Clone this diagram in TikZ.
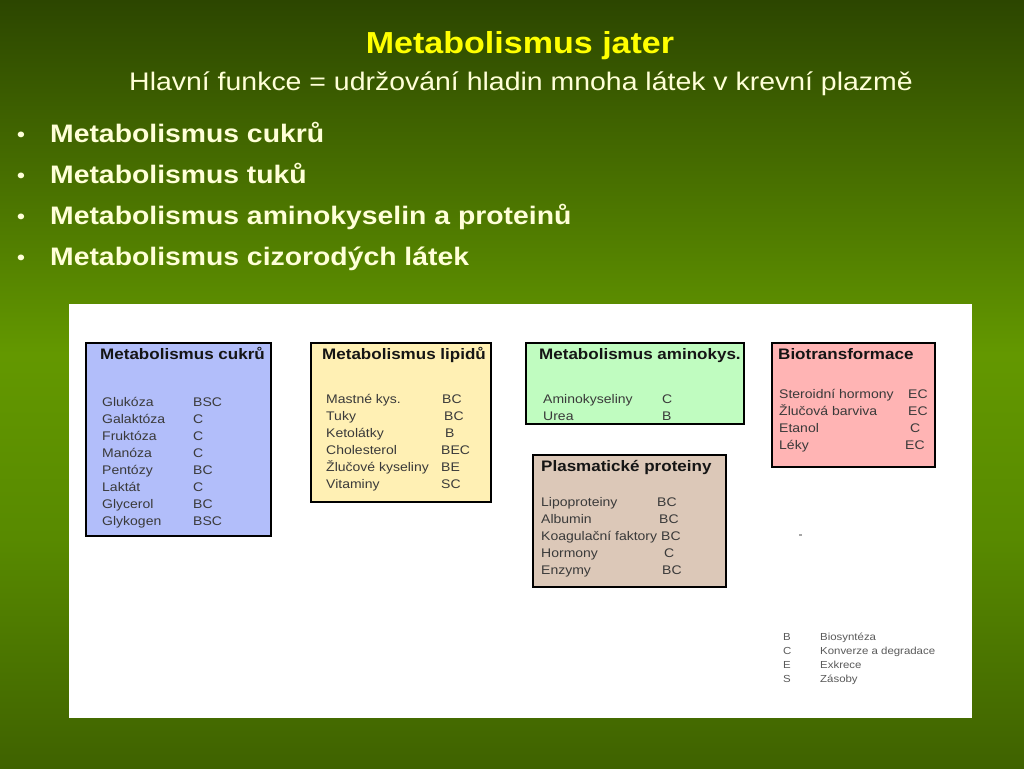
\documentclass[tikz,border=0pt]{standalone}
\usepackage{fontspec}
\setmainfont{Liberation Sans}[FakeStretch=1.12]
\definecolor{bgtop}{HTML}{2C4600}
\definecolor{bgmid}{HTML}{639800}
\definecolor{bglow}{HTML}{588A00}
\definecolor{bgbot}{HTML}{3F6200}
\definecolor{titley}{HTML}{FFFF00}
\definecolor{cream}{HTML}{FFFFD8}
\definecolor{itemc}{HTML}{3A3A3A}
\definecolor{headc}{HTML}{151515}
\definecolor{legc}{HTML}{5A5A5A}
\definecolor{fblue}{HTML}{B2BEFA}
\definecolor{fyellow}{HTML}{FFF0B4}
\definecolor{fgreen}{HTML}{C0FCC0}
\definecolor{fpink}{HTML}{FFB4B4}
\definecolor{ftan}{HTML}{DCC8B8}
\pgfdeclareverticalshading{slidebg}{100bp}{color(0bp)=(bgbot); color(25bp)=(bgbot); color(40bp)=(bglow); color(52bp)=(bgmid); color(75bp)=(bgtop); color(100bp)=(bgtop)}
\tikzset{
  panelbox/.style={draw=black, line width=1.8pt, anchor=north west, inner sep=0, rectangle},
  boxhead/.style={anchor=base west, inner sep=0, text=headc, font=\fontsize{15.2}{18}\selectfont\bfseries},
  item/.style={anchor=base west, inner sep=0, text=itemc, font=\fontsize{12.5}{15}\selectfont},
  legtext/.style={anchor=base west, inner sep=0, text=legc, font=\fontsize{10.2}{12}\selectfont},
  bullettext/.style={anchor=base west, inner sep=0, text=cream, font=\fontsize{25.3}{30}\selectfont\bfseries},
  bulletmark/.style={anchor=base west, inner sep=0, text=cream, font=\fontsize{20}{24}\selectfont\bfseries},
}
\begin{document}
\begin{tikzpicture}[x=1pt,y=-1pt]
\useasboundingbox (0,0) rectangle (1024,768);
\shade[shading=slidebg] (0,0) rectangle (1024,768);
% title
\node[anchor=base, inner sep=0, text=titley, font=\fontsize{30.4}{36}\selectfont\bfseries] (title) at (520,54) {Metabolismus jater};
\node[anchor=base, inner sep=0, text=cream, font=\fontsize{25.4}{30}\selectfont] (subtitle) at (521,90) {Hlavní funkce = udržování hladin mnoha látek v krevní plazmě};
% bullets
\foreach \y/\t [count=\i] in {142/{Metabolismus cukrů},183/{Metabolismus tuků},224/{Metabolismus aminokyselin a proteinů},265/{Metabolismus cizorodých látek}}{
  \node[bulletmark] (bm\i) at (17,\y-1) {•};
  \node[bullettext] (bt\i) at (50,\y) {\t};
}
% white panel
\fill[white] (69,304) rectangle (972,718);
% boxes
\node[panelbox, fill=fblue, minimum width=185pt, minimum height=193pt] (cukr) at (85,342) {};
\node[panelbox, fill=fyellow, minimum width=180pt, minimum height=159pt] (lipid) at (310,342) {};
\node[panelbox, fill=fgreen, minimum width=218pt, minimum height=81pt] (amino) at (525,342) {};
\node[panelbox, fill=fpink, minimum width=163pt, minimum height=124pt] (bio) at (771,342) {};
\node[panelbox, fill=ftan, minimum width=193pt, minimum height=132pt] (plasma) at (532,454) {};
% box 1
\node[boxhead] (h1) at (100,359) {Metabolismus cukrů};
\foreach \a/\b [count=\i] in {Glukóza/BSC,Galaktóza/C,Fruktóza/C,Manóza/C,Pentózy/BC,Laktát/C,Glycerol/BC,Glykogen/BSC}{
  \node[item] (c\i) at (102,{406+17*(\i-1)}) {\a};
  \node[item] (cc\i) at (193,{406+17*(\i-1)}) {\b};
}
% box 2
\node[boxhead] (h2) at (322,359) {Metabolismus lipidů};
\foreach \a/\b/\x [count=\i] in {Mastné kys./BC/442,Tuky/BC/444,Ketolátky/B/445,Cholesterol/BEC/441,Žlučové kyseliny/BE/441,Vitaminy/SC/441}{
  \node[item] (l\i) at (326,{403+17*(\i-1)}) {\a};
  \node[item] (ll\i) at (\x,{403+17*(\i-1)}) {\b};
}
% box 3
\node[boxhead] (h3) at (539,359) {Metabolismus aminokys.};
\node[item] (a1) at (543,403) {Aminokyseliny};
\node[item] (aa1) at (662,403) {C};
\node[item] (a2) at (543,420) {Urea};
\node[item] (aa2) at (662,420) {B};
% box 4
\node[boxhead] (h4) at (778,359) {Biotransformace};
\foreach \a/\b/\x [count=\i] in {Steroidní hormony/EC/908,Žlučová barviva/EC/908,Etanol/C/910,Léky/EC/905}{
  \node[item] (t\i) at (779,{398+17.3*(\i-1)}) {\a};
  \node[item] (tt\i) at (\x,{398+17.3*(\i-1)}) {\b};
}
% box 5
\node[boxhead] (h5) at (541,471) {Plasmatické proteiny};
\foreach \a/\b/\x [count=\i] in {Lipoproteiny/BC/657,Albumin/BC/659,Koagulační faktory/BC/661,Hormony/C/664,Enzymy/BC/662}{
  \node[item] (p\i) at (541,{506+17.2*(\i-1)}) {\a};
  \node[item] (pp\i) at (\x,{506+17.2*(\i-1)}) {\b};
}
% small dot
\fill[gray!70] (799,534) rectangle (802,536);
% legend
\foreach \a/\b [count=\i] in {B/Biosyntéza,C/Konverze a degradace,E/Exkrece,S/Zásoby}{
  \node[legtext] (k\i) at (783,{640+14*(\i-1)}) {\a};
  \node[legtext] (kk\i) at (820,{640+14*(\i-1)}) {\b};
}
\end{tikzpicture}
\end{document}
